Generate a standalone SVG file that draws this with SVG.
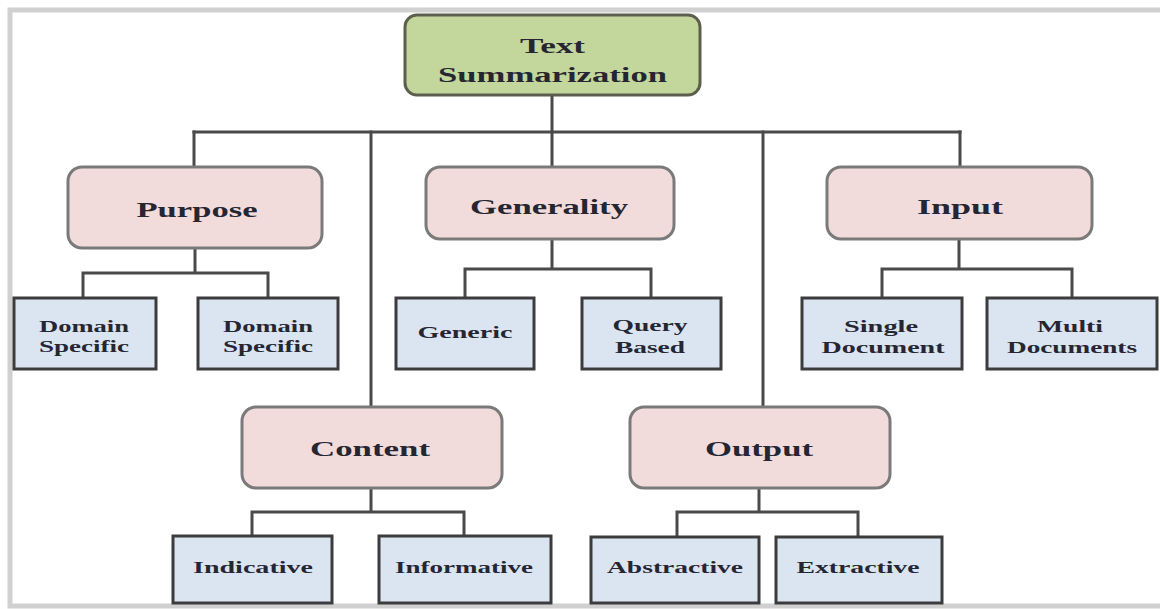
<svg xmlns="http://www.w3.org/2000/svg" width="1160" height="609" viewBox="0 0 1160 609">
  <style>
    .frame { fill: none; stroke: #d0d0d0; stroke-width: 5; }
    .root { fill: #c3d69b; stroke: #5e5e4e; stroke-width: 3; }
    .cat { fill: #f2dcdb; stroke: #7a7a7a; stroke-width: 3; }
    .leaf { fill: #dbe5f1; stroke: #3c3c3c; stroke-width: 3; }
    .link { fill: none; stroke: #4a4a4a; stroke-width: 3; stroke-linecap: square; }
    text { font-family: "Liberation Serif", "Times New Roman", serif; font-weight: bold; fill: #262633; text-anchor: middle; }
    .t-root { font-size: 22px; }
    .t-cat { font-size: 22px; }
    .t-leaf { font-size: 16px; }
  </style>

  <rect class="frame" x="10" y="10" width="1160" height="596"/>

  <!-- connectors -->
  <g id="connectors">
    <!-- root to categories -->
    <path class="link" d="M552 95 V167"/>
    <path class="link" d="M194 132 H960"/>
    <path class="link" d="M194 132 V167"/>
    <path class="link" d="M371 132 V407"/>
    <path class="link" d="M763 132 V407"/>
    <path class="link" d="M960 132 V167"/>
    <!-- Purpose -->
    <path class="link" d="M195 248 V273 M83 273 H268 M83 273 V298 M268 273 V298"/>
    <!-- Generality -->
    <path class="link" d="M552 239 V269 M465 269 H651 M465 269 V298 M651 269 V298"/>
    <!-- Input -->
    <path class="link" d="M959 239 V269 M882 269 H1072 M882 269 V298 M1072 269 V298"/>
    <!-- Content -->
    <path class="link" d="M371 488 V512 M252 512 H464 M252 512 V536 M464 512 V536"/>
    <!-- Output -->
    <path class="link" d="M759 488 V512 M677 512 H858 M677 512 V536 M858 512 V536"/>
  </g>

  <!-- root -->
  <g id="node-text-summarization">
    <rect class="root" x="405" y="15" width="295" height="80" rx="12"/>
    <text class="t-root" x="552.5" y="53" textLength="65" lengthAdjust="spacingAndGlyphs">Text</text>
    <text class="t-root" x="552.5" y="82" textLength="229" lengthAdjust="spacingAndGlyphs">Summarization</text>
  </g>

  <!-- categories -->
  <g id="node-purpose">
    <rect class="cat" x="68" y="167" width="254" height="81" rx="14"/>
    <text class="t-cat" x="197" y="217" textLength="121" lengthAdjust="spacingAndGlyphs">Purpose</text>
  </g>
  <g id="node-generality">
    <rect class="cat" x="426" y="167" width="248" height="72" rx="14"/>
    <text class="t-cat" x="549" y="214" textLength="158" lengthAdjust="spacingAndGlyphs">Generality</text>
  </g>
  <g id="node-input">
    <rect class="cat" x="827" y="167" width="265" height="72" rx="14"/>
    <text class="t-cat" x="960" y="214" textLength="86" lengthAdjust="spacingAndGlyphs">Input</text>
  </g>
  <g id="node-content">
    <rect class="cat" x="242" y="407" width="260" height="81" rx="14"/>
    <text class="t-cat" x="370" y="456" textLength="120" lengthAdjust="spacingAndGlyphs">Content</text>
  </g>
  <g id="node-output">
    <rect class="cat" x="630" y="407" width="260" height="81" rx="14"/>
    <text class="t-cat" x="759" y="456" textLength="108" lengthAdjust="spacingAndGlyphs">Output</text>
  </g>

  <!-- leaves -->
  <g id="node-domain-specific-1">
    <rect class="leaf" x="14" y="298" width="142" height="71"/>
    <text class="t-leaf" x="84" y="332" textLength="90" lengthAdjust="spacingAndGlyphs">Domain</text>
    <text class="t-leaf" x="84" y="352" textLength="90" lengthAdjust="spacingAndGlyphs">Specific</text>
  </g>
  <g id="node-domain-specific-2">
    <rect class="leaf" x="198" y="298" width="140" height="71"/>
    <text class="t-leaf" x="268" y="332" textLength="90" lengthAdjust="spacingAndGlyphs">Domain</text>
    <text class="t-leaf" x="268" y="352" textLength="90" lengthAdjust="spacingAndGlyphs">Specific</text>
  </g>
  <g id="node-generic">
    <rect class="leaf" x="396" y="298" width="138" height="71"/>
    <text class="t-leaf" x="465" y="338" textLength="95" lengthAdjust="spacingAndGlyphs">Generic</text>
  </g>
  <g id="node-query-based">
    <rect class="leaf" x="582" y="298" width="139" height="71"/>
    <text class="t-leaf" x="650" y="331" textLength="75" lengthAdjust="spacingAndGlyphs">Query</text>
    <text class="t-leaf" x="650" y="353" textLength="70" lengthAdjust="spacingAndGlyphs">Based</text>
  </g>
  <g id="node-single-document">
    <rect class="leaf" x="802" y="298" width="160" height="71"/>
    <text class="t-leaf" x="881" y="332" textLength="74" lengthAdjust="spacingAndGlyphs">Single</text>
    <text class="t-leaf" x="883" y="353" textLength="123" lengthAdjust="spacingAndGlyphs">Document</text>
  </g>
  <g id="node-multi-documents">
    <rect class="leaf" x="987" y="298" width="170" height="71"/>
    <text class="t-leaf" x="1070" y="332" textLength="66" lengthAdjust="spacingAndGlyphs">Multi</text>
    <text class="t-leaf" x="1072" y="353" textLength="130" lengthAdjust="spacingAndGlyphs">Documents</text>
  </g>
  <g id="node-indicative">
    <rect class="leaf" x="173" y="536" width="159" height="67"/>
    <text class="t-leaf" x="253" y="573" textLength="120" lengthAdjust="spacingAndGlyphs">Indicative</text>
  </g>
  <g id="node-informative">
    <rect class="leaf" x="379" y="536" width="172" height="67"/>
    <text class="t-leaf" x="464" y="573" textLength="138" lengthAdjust="spacingAndGlyphs">Informative</text>
  </g>
  <g id="node-abstractive">
    <rect class="leaf" x="591" y="537" width="168" height="66"/>
    <text class="t-leaf" x="675" y="573" textLength="136" lengthAdjust="spacingAndGlyphs">Abstractive</text>
  </g>
  <g id="node-extractive">
    <rect class="leaf" x="776" y="537" width="166" height="66"/>
    <text class="t-leaf" x="858" y="573" textLength="123" lengthAdjust="spacingAndGlyphs">Extractive</text>
  </g>
</svg>
